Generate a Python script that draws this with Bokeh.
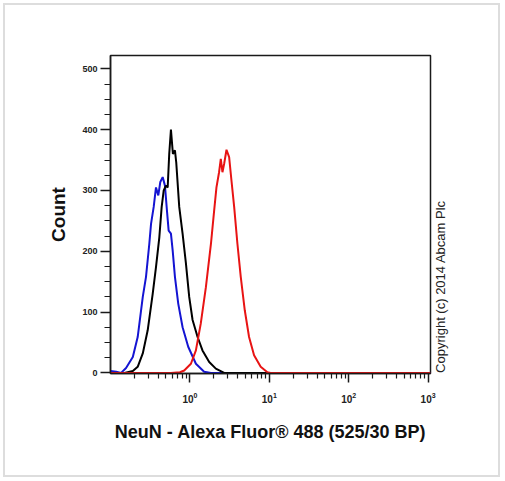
import math
from bokeh.plotting import figure
from bokeh.models import FixedTicker, LinearAxis
from bokeh.embed import file_html
from bokeh.resources import INLINE

# ---- data (x = fluorescence, y = count) ----
blue_x = [0.1, 0.118, 0.136, 0.157, 0.191, 0.22, 0.255, 0.28, 0.308, 0.324, 0.35, 0.374,
          0.40, 0.424, 0.454, 0.485, 0.514, 0.54, 0.577, 0.607, 0.648, 0.713, 0.809,
          0.952, 1.19, 1.51, 1.84, 1072]
blue_y = [3, 2, 0, 8, 26, 59, 125, 158, 212, 245, 273, 305,
          292, 314, 322, 308, 267, 234, 229, 201, 158, 114, 75,
          43, 15, 2, 0, 0]

black_x = [0.1, 0.15, 0.191, 0.22, 0.255, 0.294, 0.34, 0.374, 0.412, 0.441, 0.468, 0.499,
           0.525, 0.549, 0.577, 0.611, 0.648, 0.673, 0.734, 0.809, 0.891, 0.98, 1.081,
           1.25, 1.44, 1.75, 2.12, 2.70, 1072]
black_y = [0, 0, 3, 10, 32, 70, 130, 174, 223, 273, 300, 308,
           305, 360, 400, 360, 366, 346, 273, 229, 180, 125, 87,
           59, 37, 18, 7, 0, 0]

red_x = [0.1, 0.577, 0.75, 0.848, 1.03, 1.19, 1.37, 1.59, 1.84, 2.02, 2.16, 2.33, 2.45,
         2.57, 2.70, 2.89, 3.12, 3.34, 3.61, 3.97, 4.37, 4.91, 5.56, 6.43, 7.79,
         9.46, 10.4, 1072]
red_y = [0, 0, 1, 4, 15, 37, 81, 141, 212, 267, 305, 330, 352,
         330, 344, 367, 355, 316, 273, 212, 158, 103, 59, 29, 10,
         1, 0, 0]

x_major = [1, 10, 100, 1000]
x_minor = [m * d for d in (0.1, 1, 10, 100) for m in range(2, 10)]
y_major = [0, 100, 200, 300, 400, 500]
y_minor = [v for v in range(0, 521, 25) if v % 100 != 0]

x_title = "NeuN - Alexa Fluor® 488 (525/30 BP)"
y_title = "Count"
note = "Copyright (c) 2014 Abcam Plc"
note_anchor = 0  # count level where the side note starts

FONT = "Liberation Sans"

p = figure(width=497, height=474, x_axis_type="log",
           x_range=(0.1, 1072), y_range=(-1, 522),
           output_backend="svg", toolbar_location=None,
           min_border_left=105, min_border_right=72,
           min_border_top=50, min_border_bottom=106)

# light grey outer frame of the image
p.styles = {"border": "2px solid #dddddd", "margin": "3px 0 0 3px"}

p.xgrid.visible = False
p.ygrid.visible = False
p.outline_line_color = "#1a1a1a"
p.outline_line_width = 1.5
p.background_fill_color = "white"
p.border_fill_color = "white"

p.line(blue_x, blue_y, line_color="#1414d2", line_width=2)
p.line(black_x, black_y, line_color="#000000", line_width=2)
p.line(red_x, red_y, line_color="#e81414", line_width=2)

p.xaxis.ticker = FixedTicker(ticks=x_major, minor_ticks=x_minor)
p.yaxis.ticker = FixedTicker(ticks=y_major, minor_ticks=y_minor)

for ax in (p.xaxis, p.yaxis):
    ax.axis_line_color = "#1a1a1a"
    ax.axis_line_width = 1.5
    ax.major_tick_line_color = "#1a1a1a"
    ax.minor_tick_line_color = "#1a1a1a"
    ax.major_tick_line_width = 1.5
    ax.minor_tick_line_width = 1.2
    ax.major_tick_in = 0
    ax.minor_tick_in = 0
    ax.major_label_text_font = FONT
    ax.major_label_text_font_style = "bold"
    ax.major_label_text_color = "#222222"
    ax.axis_label_text_font = FONT
    ax.axis_label_text_font_style = "bold"
    ax.axis_label_text_color = "#111111"

p.yaxis.major_tick_out = 10
p.yaxis.minor_tick_out = 6
p.yaxis.major_label_text_font_size = "9px"
p.yaxis.major_label_standoff = 3
p.yaxis.axis_label = y_title
p.yaxis.axis_label_text_font_size = "19px"
p.yaxis.axis_label_standoff = 10

p.xaxis.major_tick_out = 9
p.xaxis.minor_tick_out = 5
p.xaxis.major_label_text_font_size = "10px"
p.xaxis.major_label_standoff = 9
p.xaxis.axis_label = x_title
p.xaxis.axis_label_text_font_size = "18px"
p.xaxis.axis_label_standoff = 16

# copyright note on the right side, reading bottom to top
side = LinearAxis(ticker=FixedTicker(ticks=[note_anchor], minor_ticks=[]),
                  major_label_overrides={note_anchor: note},
                  major_label_orientation=math.pi / 2,
                  axis_line_color=None, major_tick_line_color=None,
                  minor_tick_line_color=None, major_tick_out=0, major_tick_in=0,
                  major_label_standoff=10,
                  major_label_text_font=FONT, major_label_text_font_size="13px",
                  major_label_text_font_style="normal",
                  major_label_text_color="#222222")
p.add_layout(side, "right")

open("out.html", "w").write(file_html(p, INLINE))
